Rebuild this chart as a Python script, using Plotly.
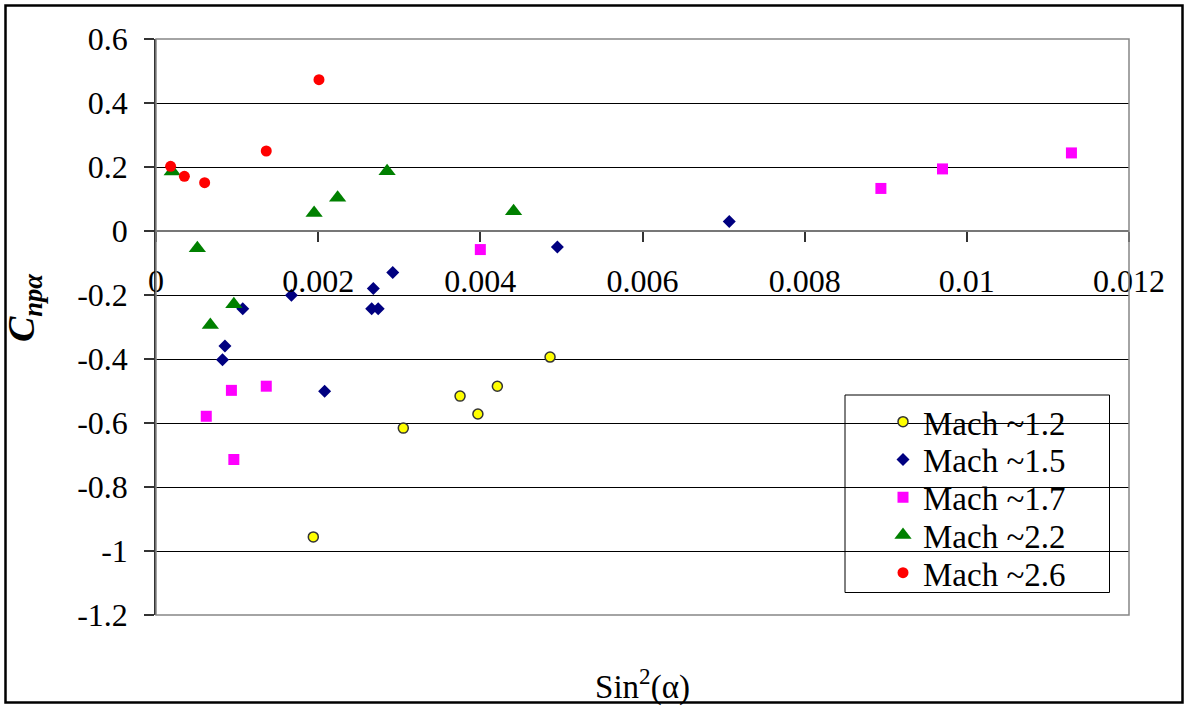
import plotly.graph_objects as go

# ---- data ----
m12_x = [0.00194, 0.00305, 0.00375, 0.00397, 0.00421, 0.00486]
m12_y = [-0.956, -0.616, -0.516, -0.572, -0.485, -0.394]

m15_x = [0.00082, 0.00085, 0.00107, 0.00167, 0.00208, 0.00266, 0.00268, 0.00274, 0.00292, 0.00495, 0.00707]
m15_y = [-0.402, -0.359, -0.243, -0.201, -0.501, -0.243, -0.180, -0.243, -0.130, -0.050, 0.030]

m17_x = [0.00062, 0.00093, 0.00096, 0.00136, 0.00400, 0.00894, 0.00970, 0.01129]
m17_y = [-0.579, -0.498, -0.714, -0.485, -0.058, 0.133, 0.194, 0.244]

m22_x = [0.00020, 0.00051, 0.00067, 0.00096, 0.00195, 0.00224, 0.00285, 0.00441]
m22_y = [0.186, -0.054, -0.294, -0.229, 0.056, 0.104, 0.187, 0.062]

m26_x = [0.00018, 0.00035, 0.00060, 0.00136, 0.00201]
m26_y = [0.202, 0.171, 0.151, 0.250, 0.473]

series_names = ["Mach ~1.2", "Mach ~1.5", "Mach ~1.7", "Mach ~2.2", "Mach ~2.6"]

x_ticks = [0, 0.002, 0.004, 0.006, 0.008, 0.01, 0.012]
x_tick_labels = ["0", "0.002", "0.004", "0.006", "0.008", "0.01", "0.012"]
y_ticks = [0.6, 0.4, 0.2, 0, -0.2, -0.4, -0.6, -0.8, -1, -1.2]
y_tick_labels = ["0.6", "0.4", "0.2", "0", "-0.2", "-0.4", "-0.6", "-0.8", "-1", "-1.2"]

FONT = "Liberation Serif"

W, H = 1185, 707
L, R, T, B = 156, 56, 39, 92
pw, ph = W - L - R, H - T - B


def px_to_paper_x(px):
    return (px - L) / pw


def px_to_paper_y(py):
    return (H - B - py) / ph


legend_ids = ["legend", "legend2", "legend3", "legend4", "legend5"]
legend_rows_px = [421.7, 459.5, 497.2, 535.0, 572.7]

fig = go.Figure()
fig.add_trace(go.Scatter(x=m12_x, y=m12_y, mode="markers", name=series_names[0], legend=legend_ids[0],
                         marker=dict(symbol="circle", size=10, color="#FFFF00",
                                     line=dict(color="#333333", width=1.5))))
fig.add_trace(go.Scatter(x=m15_x, y=m15_y, mode="markers", name=series_names[1], legend=legend_ids[1],
                         marker=dict(symbol="diamond", size=10, color="#000080",
                                     line=dict(width=0))))
fig.add_trace(go.Scatter(x=m17_x, y=m17_y, mode="markers", name=series_names[2], legend=legend_ids[2],
                         marker=dict(symbol="square", size=11, color="#FF00FF",
                                     line=dict(width=0))))
fig.add_trace(go.Scatter(x=m22_x, y=m22_y, mode="markers", name=series_names[3], legend=legend_ids[3],
                         marker=dict(symbol="triangle-up", size=15, color="#008000",
                                     line=dict(width=0))))
fig.add_trace(go.Scatter(x=m26_x, y=m26_y, mode="markers", name=series_names[4], legend=legend_ids[4],
                         marker=dict(symbol="circle", size=11, color="#FF0000",
                                     line=dict(width=0))))

legend_layout = {}
for lid, row in zip(legend_ids, legend_rows_px):
    legend_layout[lid] = dict(
        x=px_to_paper_x(883), y=px_to_paper_y(row), xanchor="left", yanchor="middle",
        bgcolor="rgba(0,0,0,0)", borderwidth=0,
        font=dict(family=FONT, size=33, color="black"),
        itemwidth=30,
    )

fig.update_layout(
    width=W, height=H,
    margin=dict(l=L, r=R, t=T, b=B, autoexpand=False),
    paper_bgcolor="white", plot_bgcolor="white",
    font=dict(family=FONT, color="black", size=32),
    showlegend=True,
    xaxis=dict(
        range=[0, 0.012], tickvals=x_ticks, ticktext=x_tick_labels,
        showgrid=False, zeroline=False,
        showline=True, linecolor="#777777", linewidth=2,
        anchor="free", position=2 / 3,
        ticks="outside", ticklen=10, tickwidth=1.5, tickcolor="#333333",
        tickfont=dict(family=FONT, size=32, color="black"),
        ticklabelstandoff=12,
        automargin=False,
        title=dict(text="Sin<sup>2</sup>(α)", font=dict(family=FONT, size=33, color="black"),
                   standoff=375),
    ),
    yaxis=dict(
        range=[-1.2, 0.6], tickvals=y_ticks, ticktext=y_tick_labels,
        showgrid=True, gridcolor="black", gridwidth=1,
        zeroline=False,
        showline=True, linecolor="#333333", linewidth=1.5,
        ticks="outside", ticklen=10, tickwidth=1.5, tickcolor="#333333",
        tickfont=dict(family=FONT, size=32, color="black"),
        ticklabelstandoff=10,
        automargin=False,
        title=dict(text="&nbsp;&nbsp;&nbsp;&nbsp;<b><i>C</i></b><sub><b><i>npα</i></b></sub>",
                   font=dict(family=FONT, size=38, color="black"), standoff=38),
    ),
    shapes=[
        # plot-area frame
        dict(type="rect", xref="paper", yref="paper", x0=0, x1=1, y0=0, y1=1,
             line=dict(color="#868686", width=1.5), layer="above"),
        # legend box
        dict(type="rect", xref="paper", yref="paper",
             x0=px_to_paper_x(845), x1=px_to_paper_x(1109.5),
             y0=px_to_paper_y(592.5), y1=px_to_paper_y(395),
             line=dict(color="black", width=1), fillcolor="white", layer="below"),
        # outer chart border
        dict(type="rect", xref="paper", yref="paper",
             x0=px_to_paper_x(5.5), x1=px_to_paper_x(1182.5),
             y0=px_to_paper_y(702.5), y1=px_to_paper_y(5.5),
             line=dict(color="black", width=2.5), layer="above"),
    ],
    **legend_layout,
)

fig.write_html("out.html", config={"displayModeBar": False},
               post_script="document.body.style.margin='0';")
